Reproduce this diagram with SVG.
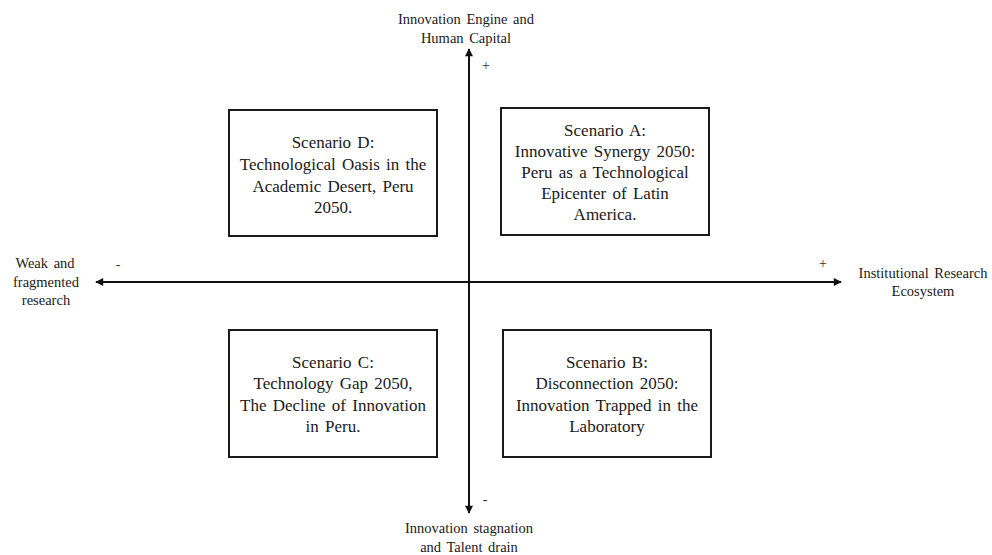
<svg xmlns="http://www.w3.org/2000/svg" width="992" height="555" viewBox="0 0 992 555">
  <style>
    .box { fill: #ffffff; stroke: #1a1a1a; stroke-width: 2; }
    .axis { stroke: #111111; stroke-width: 2; fill: none; }
    .t { font-family: "Liberation Serif", "Times New Roman", serif; font-size: 17px; fill: #1a1a1a; text-anchor: middle; word-spacing: 2px; }
    .lbl { font-family: "Liberation Serif", "Times New Roman", serif; font-size: 14.5px; fill: #1a1a1a; text-anchor: middle; word-spacing: 2px; }
    .sign { font-family: "Liberation Serif", "Times New Roman", serif; font-size: 14px; fill: #333333; text-anchor: middle; }
  </style>
  <defs>
    <marker id="arrow" viewBox="0 0 10 10" refX="9" refY="5" markerWidth="4.5" markerHeight="4" orient="auto" markerUnits="strokeWidth">
      <path d="M0,0 L10,5 L0,10 Z" fill="#111111"/>
    </marker>
  </defs>
  <rect width="992" height="555" fill="#ffffff"/>

  <g id="connectors">
    <line class="axis" x1="469" y1="282" x2="469" y2="49" marker-end="url(#arrow)"/>
    <line class="axis" x1="469" y1="282" x2="469" y2="513" marker-end="url(#arrow)"/>
    <line class="axis" x1="469" y1="282" x2="841" y2="282" marker-end="url(#arrow)"/>
    <line class="axis" x1="469" y1="282" x2="96" y2="282" marker-end="url(#arrow)"/>
  </g>

  <g id="axis-top">
    <text class="lbl" x="466" y="24">Innovation Engine and</text>
    <text class="lbl" x="466" y="43">Human Capital</text>
    <text class="sign" x="486" y="70">+</text>
  </g>
  <g id="axis-bottom">
    <text class="sign" x="485" y="504">-</text>
    <text class="lbl" x="469" y="533">Innovation stagnation</text>
    <text class="lbl" x="469" y="552">and Talent drain</text>
  </g>
  <g id="axis-left">
    <text class="lbl" x="45" y="268">Weak and</text>
    <text class="lbl" x="46" y="287">fragmented</text>
    <text class="lbl" x="46" y="305">research</text>
    <text class="sign" x="118" y="269">-</text>
  </g>
  <g id="axis-right">
    <text class="sign" x="823" y="268">+</text>
    <text class="lbl" x="923" y="278">Institutional Research</text>
    <text class="lbl" x="923" y="296">Ecosystem</text>
  </g>

  <g id="scenario-d">
    <rect class="box" x="229" y="110" width="208" height="126"/>
    <text class="t" x="333" y="148">Scenario D:</text>
    <text class="t" x="333" y="170">Technological Oasis in the</text>
    <text class="t" x="333" y="192">Academic Desert, Peru</text>
    <text class="t" x="333" y="213">2050.</text>
  </g>
  <g id="scenario-a">
    <rect class="box" x="501" y="108" width="208" height="127"/>
    <text class="t" x="605" y="136">Scenario A:</text>
    <text class="t" x="605" y="157">Innovative Synergy 2050:</text>
    <text class="t" x="605" y="178">Peru as a Technological</text>
    <text class="t" x="605" y="199">Epicenter of Latin</text>
    <text class="t" x="605" y="220">America.</text>
  </g>
  <g id="scenario-c">
    <rect class="box" x="229" y="330" width="208" height="127"/>
    <text class="t" x="333" y="368">Scenario C:</text>
    <text class="t" x="333" y="389">Technology Gap 2050,</text>
    <text class="t" x="333" y="411">The Decline of Innovation</text>
    <text class="t" x="333" y="432">in Peru.</text>
  </g>
  <g id="scenario-b">
    <rect class="box" x="503" y="330" width="208" height="127"/>
    <text class="t" x="607" y="368">Scenario B:</text>
    <text class="t" x="607" y="389">Disconnection 2050:</text>
    <text class="t" x="607" y="411">Innovation Trapped in the</text>
    <text class="t" x="607" y="432">Laboratory</text>
  </g>
</svg>
